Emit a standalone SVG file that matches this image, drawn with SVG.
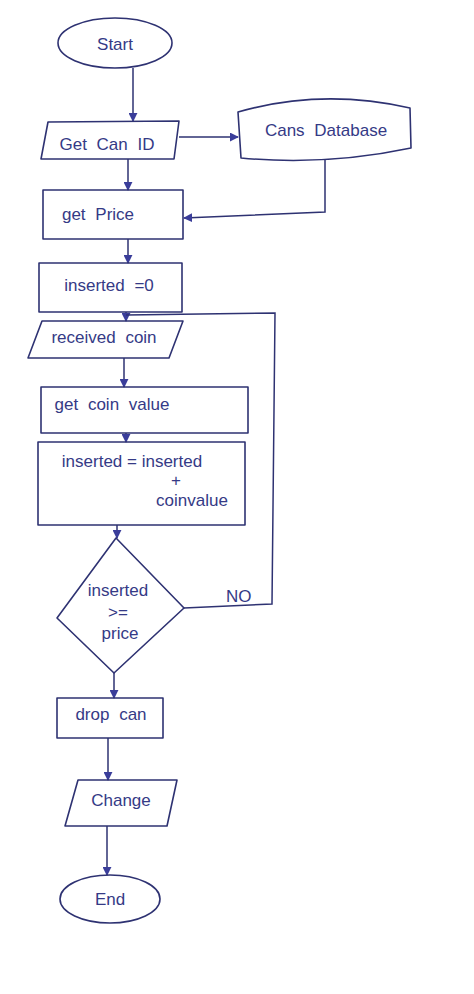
<svg xmlns="http://www.w3.org/2000/svg" width="474" height="994" viewBox="0 0 474 994">
<style>
.s{fill:none;stroke:#2e3272;stroke-width:1.6;stroke-linejoin:round}
.c{fill:none;stroke:#2e3272;stroke-width:1.5}
.t{font-family:"Liberation Sans","DejaVu Sans",sans-serif;font-size:17px;fill:#353a86;word-spacing:5px}
</style>
<defs>
<marker id="ah" viewBox="0 0 10 10" refX="9" refY="5" markerWidth="9" markerHeight="9" orient="auto" markerUnits="userSpaceOnUse">
<path d="M0,0 L10,5 L0,10 z" fill="#3a3d9a"/>
</marker>
</defs>
<rect width="474" height="994" fill="#ffffff"/>
<g id="connectors">
<path class="c" d="M133,68 L133,121" marker-end="url(#ah)"/>
<path class="c" d="M179,137 L238,137" marker-end="url(#ah)"/>
<path class="c" d="M128,159 L128,190" marker-end="url(#ah)"/>
<path class="c" d="M325,160 L325,212 L184,218" marker-end="url(#ah)"/>
<path class="c" d="M128,239 L128,263" marker-end="url(#ah)"/>
<path class="c" d="M126,312 L126,321" marker-end="url(#ah)"/>
<path class="c" d="M124,358 L124,387" marker-end="url(#ah)"/>
<path class="c" d="M126,433 L126,442" marker-end="url(#ah)"/>
<path class="c" d="M117,525 L117,538" marker-end="url(#ah)"/>
<path class="c" d="M184,608 L272,604 L275,313 L126,315"/>
<path class="c" d="M114,673 L114,698" marker-end="url(#ah)"/>
<path class="c" d="M108,738 L108,780" marker-end="url(#ah)"/>
<path class="c" d="M107,826 L107,875" marker-end="url(#ah)"/>
<text class="t" x="226" y="602" font-size="14">NO</text>
</g>
<g id="start">
<ellipse class="s" cx="115" cy="43" rx="57" ry="25"/>
<text class="t" x="115" y="50" text-anchor="middle" font-size="20">Start</text>
</g>
<g id="getCanId">
<path class="s" d="M48,122 L179,121 L174,159 L41,159 z"/>
<text class="t" x="107" y="150" text-anchor="middle">Get Can ID</text>
</g>
<g id="cansDb">
<path class="s" d="M238,112 Q322,88 410,108 L411,148 Q326,166 241,158 z"/>
<text class="t" x="326" y="136" text-anchor="middle">Cans Database</text>
</g>
<g id="getPrice">
<rect class="s" x="43" y="190" width="140" height="49"/>
<text class="t" x="98" y="220" text-anchor="middle">get Price</text>
</g>
<g id="inserted0">
<rect class="s" x="39" y="263" width="143" height="49"/>
<text class="t" x="109" y="291" text-anchor="middle">inserted =0</text>
</g>
<g id="receivedCoin">
<path class="s" d="M42,321 L183,321 L169,358 L28,358 z"/>
<text class="t" x="104" y="343" text-anchor="middle">received coin</text>
</g>
<g id="getCoinValue">
<rect class="s" x="41" y="387" width="207" height="46"/>
<text class="t" x="112" y="410" text-anchor="middle">get coin value</text>
</g>
<g id="addCoin">
<rect class="s" x="38" y="442" width="207" height="83"/>
<text class="t" x="132" y="467" text-anchor="middle" style="word-spacing:0">inserted = inserted</text>
<text class="t" x="176" y="486" text-anchor="middle">+</text>
<text class="t" x="192" y="506" text-anchor="middle">coinvalue</text>
</g>
<g id="decision">
<path class="s" d="M116,538 L184,608 L114,673 L57,618 z"/>
<text class="t" x="118" y="596" text-anchor="middle">inserted</text>
<text class="t" x="118" y="618" text-anchor="middle">&gt;=</text>
<text class="t" x="120" y="639" text-anchor="middle">price</text>
</g>
<g id="dropCan">
<rect class="s" x="57" y="698" width="106" height="40"/>
<text class="t" x="111" y="720" text-anchor="middle">drop can</text>
</g>
<g id="change">
<path class="s" d="M78,780 L177,780 L167,826 L65,826 z"/>
<text class="t" x="121" y="806" text-anchor="middle">Change</text>
</g>
<g id="end">
<ellipse class="s" cx="110" cy="899" rx="50" ry="24"/>
<text class="t" x="110" y="905" text-anchor="middle">End</text>
</g>
</svg>
